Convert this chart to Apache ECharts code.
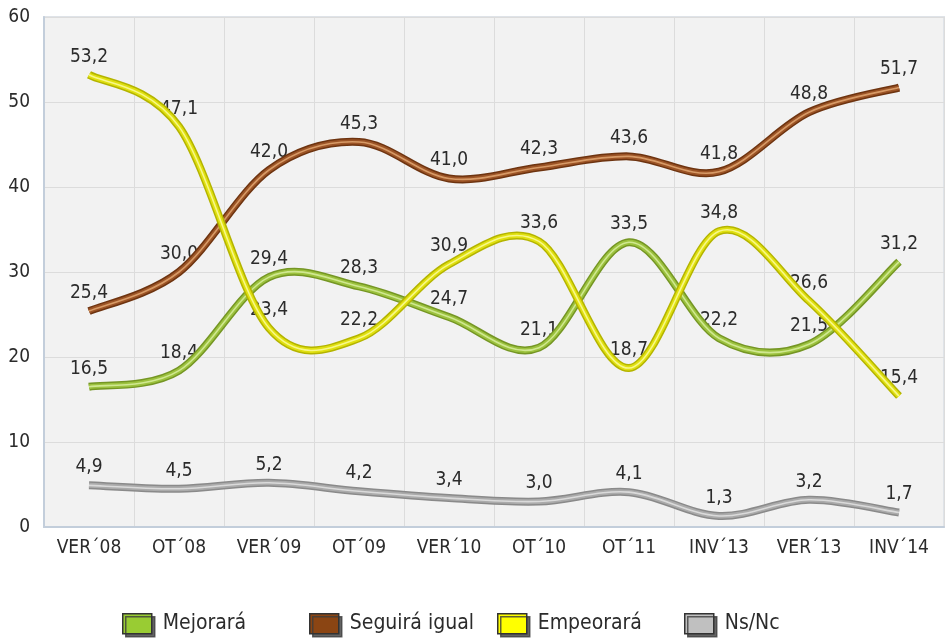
<!DOCTYPE html>
<html>
<head>
<meta charset="utf-8">
<script src="https://cdn.jsdelivr.net/npm/echarts@6/dist/echarts.min.js"></script>
<style>
html,body{margin:0;padding:0;background:#fff;}
#c{width:948px;height:642px;}
</style>
</head>
<body>
<div id="c"></div>
<script>
var categories = ['VER\u00B408','OT\u00B408','VER\u00B409','OT\u00B409','VER\u00B410','OT\u00B410','OT\u00B411','INV\u00B413','VER\u00B413','INV\u00B414'];
var mejorara = [16.5, 18.4, 29.4, 28.3, 24.7, 21.1, 33.5, 22.2, 21.5, 31.2];
var seguiraIgual = [25.4, 30.0, 42.0, 45.3, 41.0, 42.3, 43.6, 41.8, 48.8, 51.7];
var empeorara = [53.2, 47.1, 23.4, 22.2, 30.9, 33.6, 18.7, 34.8, 26.6, 15.4];
var nsnc = [4.9, 4.5, 5.2, 4.2, 3.4, 3.0, 4.1, 1.3, 3.2, 1.7];
var seriesNames = ['Mejorará', 'Seguirá igual', 'Empeorará', 'Ns/Nc'];
var yTicks = [0, 10, 20, 30, 40, 50, 60];

var FONT = '"DejaVu Sans Condensed", "Liberation Sans Narrow", "DejaVu Sans", sans-serif';
var TXT = '#2b2b2b';

var defs = [
  {name: seriesNames[0], data: mejorara, legend: '#99cc33', c: ['#759624', '#9cc23e', '#d0e890']},
  {name: seriesNames[1], data: seguiraIgual, legend: '#8b4513', c: ['#6e3410', '#9c5426', '#d79a66']},
  {name: seriesNames[2], data: empeorara, legend: '#ffff00', c: ['#b4b400', '#e0e010', '#f8f888']},
  {name: seriesNames[3], data: nsnc, legend: '#c0c0c0', c: ['#8a8a8a', '#ababab', '#dadada']}
];

function fmt(p){ return p.value.toFixed(1).replace('.', ','); }

// Catmull-Rom style smoothing (like spreadsheet "smoothed line"), through points mapped by the axes
function smoothPath(pts){
  var s = 'M' + pts[0][0] + ' ' + pts[0][1];
  var n = pts.length;
  for (var i = 0; i < n - 1; i++) {
    var p0 = pts[Math.max(i - 1, 0)], p1 = pts[i], p2 = pts[i + 1], p3 = pts[Math.min(i + 2, n - 1)];
    var c1x = p1[0] + (p2[0] - p0[0]) / 6, c1y = p1[1] + (p2[1] - p0[1]) / 6;
    var c2x = p2[0] - (p3[0] - p1[0]) / 6, c2y = p2[1] - (p3[1] - p1[1]) / 6;
    s += ' C' + c1x + ' ' + c1y + ' ' + c2x + ' ' + c2y + ' ' + p2[0] + ' ' + p2[1];
  }
  return s;
}

var series = [];
// label series (drawn underneath the lines)
defs.forEach(function(d){
  series.push({
    type: 'line', name: d.name + '_lbl', data: d.data, z: 1,
    symbol: 'circle', symbolSize: 1, itemStyle: {color: 'rgba(0,0,0,0)'},
    lineStyle: {width: 0, opacity: 0}, silent: true,
    label: {show: true, position: 'top', distance: 8, formatter: fmt,
      color: TXT, fontSize: 19, fontFamily: FONT}
  });
});
defs.forEach(function(d, i){
  series.push({
    type: 'custom', name: d.name, z: 2 + i, silent: true,
    data: d.data.map(function(v, j){ return [j, v]; }),
    encode: {x: 0, y: 1},
    itemStyle: {color: d.legend},
    renderItem: function(params, api){
      if (params.dataIndex !== 0) return null;
      var pts = d.data.map(function(v, j){ return api.coord([j, v]); });
      var pd = smoothPath(pts);
      var widths = [8, 5, 1.6];
      return {
        type: 'group',
        children: widths.map(function(w, k){
          return {type: 'path', shape: {pathData: pd},
            style: {fill: null, stroke: d.c[k], lineWidth: w, lineCap: 'butt', lineJoin: 'round'}};
        })
      };
    }
  });
});

var legendLefts = [122, 309, 497, 684];
var legends = defs.map(function(d, i){
  return {
    data: [d.name], left: legendLefts[i], top: 613, orient: 'horizontal', padding: 0,
    itemWidth: 29, itemHeight: 20, icon: 'rect',
    itemStyle: {color: d.legend, borderColor: '#333', borderWidth: 1.5,
      shadowColor: 'rgba(60,60,60,0.8)', shadowBlur: 0, shadowOffsetX: 3, shadowOffsetY: 3},
    textStyle: {color: TXT, fontSize: 21, fontFamily: FONT, padding: [4, 0, 0, 6]},
    selectedMode: false
  };
});

var chart = echarts.init(document.getElementById('c'), null, {renderer: 'canvas'});
chart.setOption({
  animation: false,
  backgroundColor: '#ffffff',
  grid: {left: 44, top: 17, right: 4, bottom: 115, show: true,
    backgroundColor: '#f2f2f2', borderColor: '#dfe3e8', borderWidth: 2},
  legend: legends,
  xAxis: {
    type: 'category', data: categories, boundaryGap: true,
    axisLine: {show: true, lineStyle: {color: '#c3cedb', width: 2}},
    axisTick: {show: false},
    splitLine: {show: true, lineStyle: {color: '#dcdcdc', width: 1}},
    axisLabel: {color: TXT, fontSize: 19, fontFamily: FONT, margin: 12, interval: 0}
  },
  yAxis: {
    type: 'value', min: yTicks[0], max: yTicks[yTicks.length - 1], interval: 10,
    axisLine: {show: true, lineStyle: {color: '#c3cedb', width: 2}},
    axisTick: {show: false},
    splitLine: {show: true, lineStyle: {color: '#dcdcdc', width: 1}},
    axisLabel: {color: TXT, fontSize: 19, fontFamily: FONT, margin: 14}
  },
  series: series
});
</script>
</body>
</html>
